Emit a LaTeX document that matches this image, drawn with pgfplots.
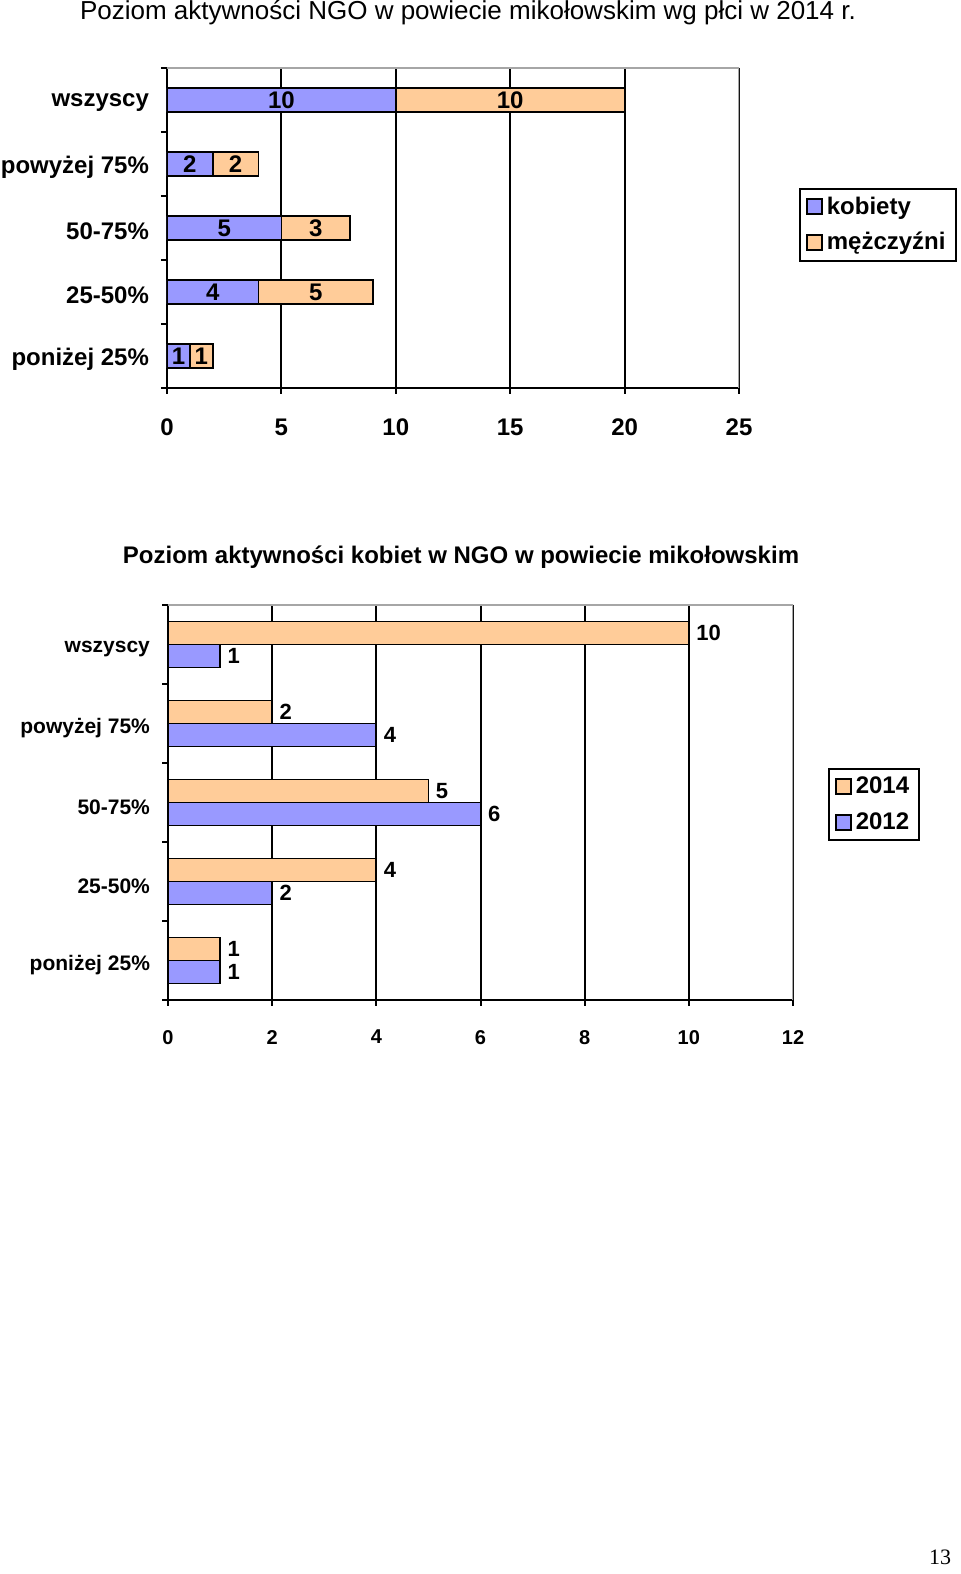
\documentclass[border=0pt]{standalone}
\usepackage{fontspec}
\setmainfont{Liberation Sans}
\newfontfamily\pagefont{Liberation Serif}
\usepackage{pgfplots}
\usepackage{pgfplotstable}
\pgfplotsset{compat=1.18}

\definecolor{kob}{HTML}{9999FF}
\definecolor{mez}{HTML}{FFCC99}
\definecolor{ramka}{HTML}{A6A6A6}

% wykres 1: y = pozycja kategorii (0 = dol)
\pgfplotstableread{
y kob mez
4 10 10
3 2 2
2 5 3
1 4 5
0 1 1
}\plec

% wykres 2: kobiety 2014 / 2012
\pgfplotstableread{
y r2014 r2012
4 10 1
3 2 4
2 5 6
1 4 2
0 1 1
}\kobiety

\pgfplotsset{
  kwadrat/.style={legend image code/.code={\draw[##1] (0pt,-3.5pt) rectangle (7.5pt,4pt);}},
  wspolne/.style={
    scale only axis,
    anchor=south west,
    axis x line*=bottom,
    axis y line*=left,
    axis line style={black, line width=1pt},
    tick align=outside,
    major tick length=3pt,
    tick style={black, line width=1pt},
    xmin=0,
    ymin=-0.5, ymax=4.5,
    ytick={-0.5,0.5,...,4.5},
    yticklabels={},
    extra y ticks={0,1,2,3,4},
    extra y tick labels={poniżej 25\%, 25-50\%, 50-75\%, powyżej 75\%, wszyscy},
    extra y tick style={major tick length=0pt, grid=none},
    xmajorgrids,
    grid style={black, line width=1pt},
    /pgf/number format/assume math mode=true,
    legend cell align=left,
  },
}

\begin{document}
\begin{tikzpicture}[x=1pt,y=1pt]
\useasboundingbox (0,0) rectangle (480,787);

\node[font=\fontsize{13}{15}\selectfont] at (234,780.5)
  {Poziom aktywności NGO w powiecie mikołowskim wg płci w 2014 r.};

\begin{axis}[
  wspolne,
  at={(83.5pt,593pt)},
  width=286pt, height=160pt,
  xmax=25,
  xtick={0,5,...,25},
  ticklabel style={font=\bfseries\fontsize{12}{14}\selectfont},
  xticklabel style={yshift=-9pt},
  yticklabel style={xshift=-5.5pt, yshift=-1.5pt},
  legend style={at={(1.105,0.625)}, anchor=north west, draw=black, line width=1pt,
    font=\bfseries\fontsize{12}{14}\selectfont, inner xsep=3pt, inner ysep=2pt, row sep=3.5pt},
]
\addplot[xbar, stack plots=x, bar shift=0pt, bar width=12pt, fill=kob, draw=black, line width=0.9pt, kwadrat]
  table[x=kob, y=y]{\plec};
\addplot[xbar, stack plots=x, bar shift=0pt, bar width=12pt, fill=mez, draw=black, line width=0.9pt, kwadrat]
  table[x=mez, y=y]{\plec};
\legend{kobiety, mężczyźni}
% etykiety w srodku segmentow
\addplot[draw=none, mark=none, forget plot, point meta=explicit,
  nodes near coords, every node near coord/.append style={anchor=center, font=\bfseries\fontsize{12}{14}\selectfont}]
  table[x expr=\thisrow{kob}/2, y=y, meta=kob]{\plec};
\addplot[draw=none, mark=none, forget plot, point meta=explicit,
  nodes near coords, every node near coord/.append style={anchor=center, font=\bfseries\fontsize{12}{14}\selectfont}]
  table[x expr=\thisrow{kob}+\thisrow{mez}/2, y=y, meta=mez]{\plec};
\draw[ramka, line width=1pt] (rel axis cs:0,1) -- (rel axis cs:1,1) -- (rel axis cs:1,0);
\end{axis}

\node[font=\bfseries\fontsize{12}{14}\selectfont] at (230.5,508.5)
  {Poziom aktywności kobiet w NGO w powiecie mikołowskim};

\begin{axis}[
  wspolne,
  at={(84pt,287pt)},
  width=312.5pt, height=197.5pt,
  xmax=12,
  xtick={0,2,...,12},
  ticklabel style={font=\bfseries\fontsize{10}{12}\selectfont},
  yticklabel style={font=\bfseries\fontsize{10.5}{12}\selectfont, xshift=-5.5pt, yshift=-2.5pt},
  xticklabel style={yshift=-8.5pt},
  legend style={at={(1.056,0.5874)}, anchor=north west, draw=black, line width=1pt,
    font=\bfseries\fontsize{12}{14}\selectfont, inner xsep=3pt, inner ysep=2pt, row sep=4pt},
  point meta=x,
  nodes near coords,
  every node near coord/.append style={font=\bfseries\fontsize{11}{13}\selectfont},
]
\addplot[xbar, bar shift=5.75pt, bar width=11.5pt, fill=mez, draw=black, line width=0.9pt, kwadrat,
  every node near coord/.append style={yshift=5.75pt}]
  table[x=r2014, y=y]{\kobiety};
\addplot[xbar, bar shift=-5.75pt, bar width=11.5pt, fill=kob, draw=black, line width=0.9pt, kwadrat,
  every node near coord/.append style={yshift=-5.75pt}]
  table[x=r2012, y=y]{\kobiety};
\legend{2014, 2012}
\draw[ramka, line width=1pt] (rel axis cs:0,1) -- (rel axis cs:1,1) -- (rel axis cs:1,0);
\end{axis}

\node[font=\pagefont\fontsize{11}{13}\selectfont] at (470,8.5) {13};
\end{tikzpicture}
\end{document}
